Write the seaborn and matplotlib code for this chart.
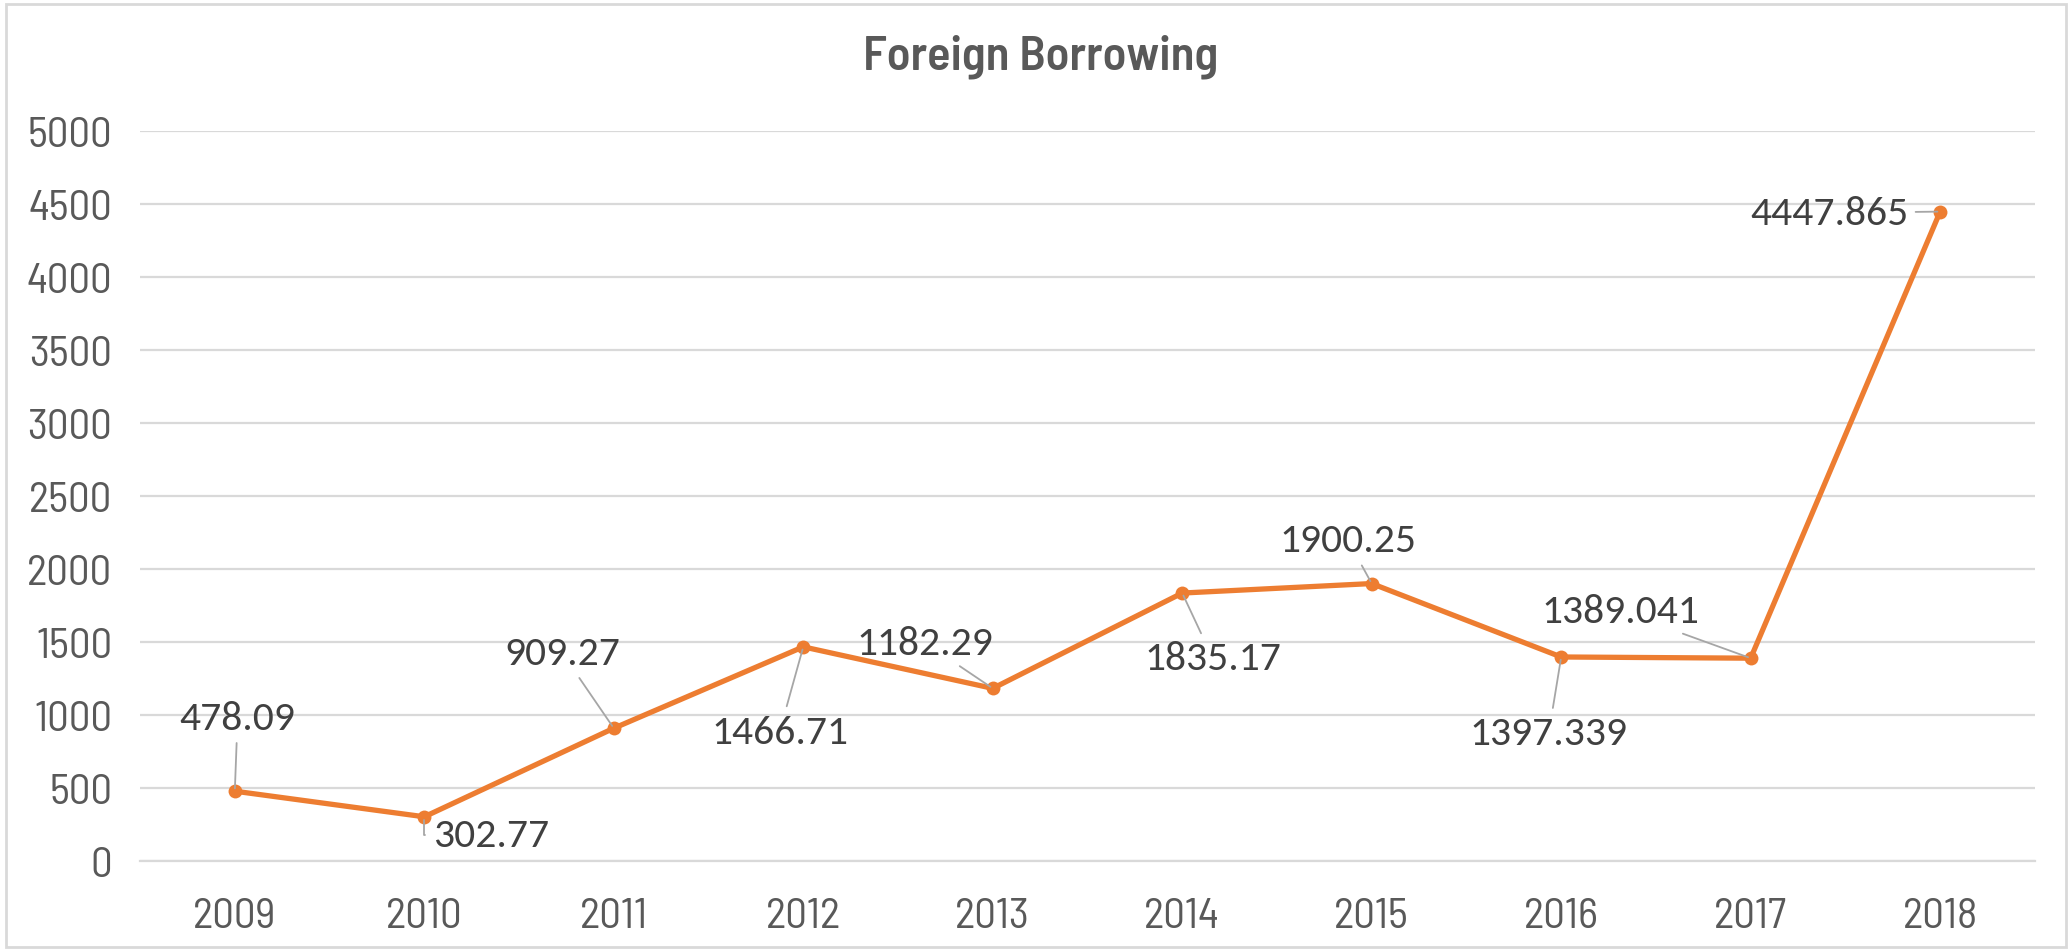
import matplotlib
matplotlib.use("Agg")
import matplotlib.pyplot as plt
import seaborn as sns
from matplotlib import font_manager
from matplotlib.patches import Rectangle

# data
years = ["2009", "2010", "2011", "2012", "2013", "2014", "2015", "2016", "2017", "2018"]
borrowing = [478.09, 302.77, 909.27, 1466.71, 1182.29, 1835.17, 1900.25, 1397.339, 1389.041, 4447.865]
value_labels = ["478.09", "302.77", "909.27", "1466.71", "1182.29", "1835.17",
                "1900.25", "1397.339", "1389.041", "4447.865"]
y_ticks = [0, 500, 1000, 1500, 2000, 2500, 3000, 3500, 4000, 4500, 5000]

# label offsets (points) from each marker, like Excel's dragged data labels
label_offsets = [(2, 53), (48, -13), (-37, 54), (-17, -61), (-49, 33),
                 (22, -47), (-17, 31), (-9, -55), (-94, 34), (-80, -1)]
leader_styles = ["arc3", "angle,angleA=180,angleB=90,rad=0", "arc3", "arc3", "arc3",
                 "arc3", "arc3", "arc3", "arc3", "arc3"]

ORANGE = "#ED7D31"
GRID = "#D9D9D9"
TICK_TXT = "#595959"
LABEL_TXT = "#404040"


def pick_font(candidates):
    installed = {f.name for f in font_manager.fontManager.ttflist}
    for name in candidates:
        if name in installed:
            return name
    return "DejaVu Sans"


AXIS_FONT = pick_font(["Barlow Semi Condensed", "Archivo Narrow", "Roboto Condensed"])
LABEL_FONT = pick_font(["Carlito", "Open Sans", "Lato"])

sns.set_theme(style="white")
plt.rcParams["font.family"] = [AXIS_FONT, "DejaVu Sans"]

fig = plt.figure(figsize=(20.72, 9.53), dpi=100)
ax = fig.add_axes([0.0676, 0.0955, 0.9145, 0.766])

sns.lineplot(x=years, y=borrowing, ax=ax, color=ORANGE, linewidth=3.8,
             marker="o", markersize=10, markeredgewidth=0, sort=False)

ax.set_xlim(-0.5, len(years) - 0.5)
ax.set_ylim(0, 5000)
ax.set_yticks(y_ticks)
ax.yaxis.grid(True, color=GRID, linewidth=1.6)
ax.set_axisbelow(True)
for side in ["top", "right", "left"]:
    ax.spines[side].set_visible(False)
ax.spines["bottom"].set_color(GRID)
ax.spines["bottom"].set_linewidth(1.6)
ax.tick_params(axis="y", length=0, pad=20, labelsize=31, labelcolor=TICK_TXT)
ax.tick_params(axis="x", length=0, pad=26, labelsize=31, labelcolor=TICK_TXT)
ax.set_xlabel("")
ax.set_ylabel("")

# data labels with leader lines
for i, (val, txt) in enumerate(zip(borrowing, value_labels)):
    dx, dy = label_offsets[i]
    ax.annotate(txt, xy=(i, val), xytext=(dx, dy), textcoords="offset points",
                ha="center", va="center", fontsize=30, color=LABEL_TXT,
                family=[LABEL_FONT, "DejaVu Sans"],
                arrowprops=dict(arrowstyle="-", color="#A6A6A6", lw=1.3,
                                shrinkA=3, shrinkB=2,
                                connectionstyle=leader_styles[i]))

fig.text(0.502, 0.940, "Foreign Borrowing", ha="center", va="center",
         fontsize=35, fontweight="semibold", color=TICK_TXT)

# chart area border
fig.patches.append(Rectangle((0.003, 0.005), 0.994, 0.99, transform=fig.transFigure,
                             fill=False, edgecolor=GRID, linewidth=2))

fig.savefig("out.png", dpi=100)
